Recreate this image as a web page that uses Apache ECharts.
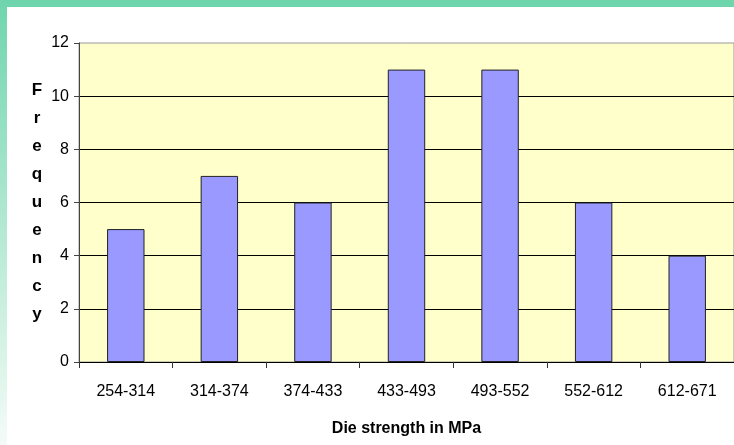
<!DOCTYPE html>
<html>
<head>
<meta charset="utf-8">
<script src="https://cdn.jsdelivr.net/npm/echarts@6/dist/echarts.min.js"></script>
<style>
  html, body { margin: 0; padding: 0; background: #fff; }
  #chart { width: 734px; height: 445px; }
</style>
</head>
<body>
<div id="chart"></div>
<script>
// die strength classes (MPa) and counts
var categories = ['254-314', '314-374', '374-433', '433-493', '493-552', '552-612', '612-671']
var frequency = [5, 7, 6, 11, 11, 6, 4]
var yTicks = { min: 0, max: 12, step: 2 }

var font = "'Liberation Sans', Arial, sans-serif"
var chart = echarts.init(document.getElementById('chart'))

chart.setOption({
  animation: false,
  backgroundColor: '#fff',
  // green slide frame, top bar + fading left bar
  graphic: [
    {
      type: 'rect',
      shape: { x: 0, y: 0, width: 7, height: 445 },
      style: {
        fill: new echarts.graphic.LinearGradient(0, 0, 0, 1, [
          { offset: 0, color: '#6fd5ad' },
          { offset: 1, color: '#f4fbf8' }
        ])
      },
      z: 10
    },
    {
      type: 'rect',
      shape: { x: 0, y: 0, width: 734, height: 7 },
      style: { fill: '#6fd5ad' },
      z: 10
    }
  ],
  grid: {
    left: 79,
    top: 43,
    right: -1, // plot runs off the right edge, no right border
    bottom: 83,
    show: true,
    backgroundColor: '#ffffcc',
    borderColor: '#999',
    borderWidth: 1
  },
  xAxis: {
    type: 'category',
    data: categories,
    name: 'Die strength in MPa',
    nameLocation: 'middle',
    nameGap: 59,
    nameTextStyle: {
      fontFamily: font,
      fontSize: 16,
      fontWeight: 'bold',
      color: '#000'
    },
    axisLine: { lineStyle: { color: '#000', width: 1 } },
    axisTick: { show: true, length: 6, lineStyle: { color: '#333' } },
    axisLabel: {
      margin: 22,
      fontFamily: font,
      fontSize: 16,
      color: '#000'
    }
  },
  yAxis: {
    type: 'value',
    min: yTicks.min,
    max: yTicks.max,
    interval: yTicks.step,
    name: 'F\nr\ne\nq\nu\ne\nn\nc\ny',
    nameLocation: 'middle',
    nameRotate: 0,
    nameGap: 42,
    nameTextStyle: {
      fontFamily: font,
      fontSize: 17,
      fontWeight: 'bold',
      color: '#000',
      align: 'center',
      lineHeight: 28
    },
    axisLine: { show: true, lineStyle: { color: '#444', width: 1 } },
    axisTick: { show: true, length: 5, lineStyle: { color: '#444' } },
    axisLabel: {
      margin: 10,
      fontFamily: font,
      fontSize: 16,
      color: '#000'
    },
    splitLine: {
      show: true,
      showMaxLine: false,
      lineStyle: { color: '#000', width: 1 }
    }
  },
  series: [{
    type: 'bar',
    data: frequency,
    barWidth: '40%',
    itemStyle: {
      color: '#9999ff',
      borderColor: '#222',
      borderWidth: 1
    }
  }]
})
</script>
</body>
</html>
